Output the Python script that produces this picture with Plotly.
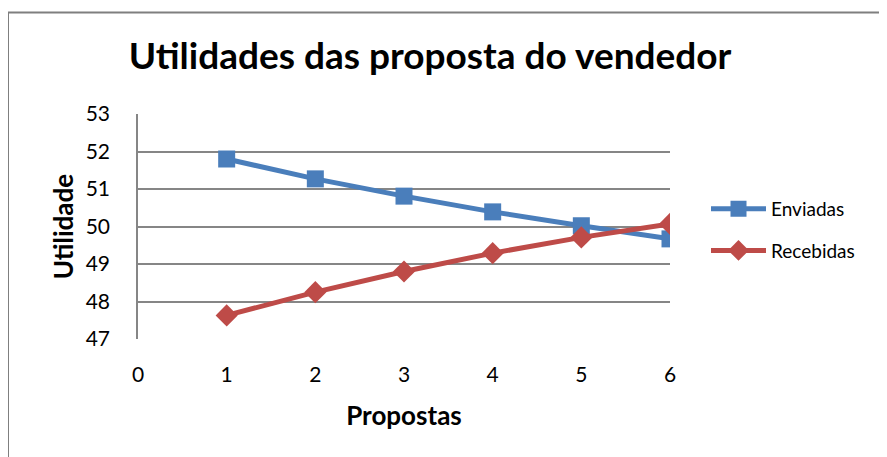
import plotly.graph_objects as go

propostas = [1, 2, 3, 4, 5, 6]
enviadas = [51.80, 51.27, 50.81, 50.39, 50.02, 49.67]
recebidas = [47.63, 48.25, 48.80, 49.29, 49.71, 50.07]
x_ticks = [0, 1, 2, 3, 4, 5, 6]
y_ticks = [47, 48, 49, 50, 51, 52, 53]

FONT = "Lato"
BLUE = "#4A7EBB"
RED = "#BE4B48"
GRID = "#868686"

# page has an 8px body margin, so the figure is drawn offset by 8px
W, H = 879, 449
L, T, R, B = 130, 106, 217, 118

fig = go.Figure()
fig.add_trace(go.Scatter(
    x=propostas, y=enviadas, name="Enviadas", mode="lines+markers",
    line=dict(color=BLUE, width=5),
    marker=dict(symbol="square", size=17, color=BLUE),
    legendgroup="a",
))
fig.add_trace(go.Scatter(
    x=propostas, y=recebidas, name="Recebidas", mode="lines+markers",
    line=dict(color=RED, width=5),
    marker=dict(symbol="diamond", size=17, color=RED),
    legendgroup="b",
))

fig.update_layout(
    width=W, height=H, autosize=False,
    margin=dict(l=L, r=R, t=T, b=B, pad=0),
    paper_bgcolor="white", plot_bgcolor="white",
    font=dict(family=FONT, color="black", size=21),
    title=dict(text="<b>Utilidades das proposta do vendedor</b>",
               font=dict(family=FONT, size=37, color="black"),
               x=(430 - 8) / W, xanchor="center", y=1 - (56 - 8) / H, yanchor="middle"),
    showlegend=True,
    legend=dict(x=(706 - 138) / 532, xanchor="left", y=0.663, yanchor="top",
                font=dict(family=FONT, size=19), tracegroupgap=14,
                itemwidth=55, bgcolor="rgba(0,0,0,0)"),
    xaxis=dict(range=[0, 6], tickvals=x_ticks, showgrid=False, zeroline=False,
               showline=False, ticks="outside", ticklen=17, tickcolor="rgba(0,0,0,0)",
               tickfont=dict(size=21),
               title=dict(text="<b>Propostas</b>", font=dict(size=26), standoff=21)),
    yaxis=dict(range=[47, 53], tickvals=y_ticks, showgrid=True, gridcolor=GRID,
               gridwidth=1.5, zeroline=False, showline=True, linecolor=GRID,
               linewidth=1.5, ticks="outside", ticklen=22,
               tickcolor="rgba(0,0,0,0)", tickfont=dict(size=21),
               title=dict(text="<b>Utilidade</b>", font=dict(size=26), standoff=5)),
    shapes=[dict(type="rect", xref="paper", yref="paper",
                 x0=(0 - L) / 532, x1=2.0, y0=-1.0, y1=(331 - 4.5) / 225,
                 line=dict(color="#7F7F7F", width=2), layer="below")],
)

fig.write_html("out.html")
